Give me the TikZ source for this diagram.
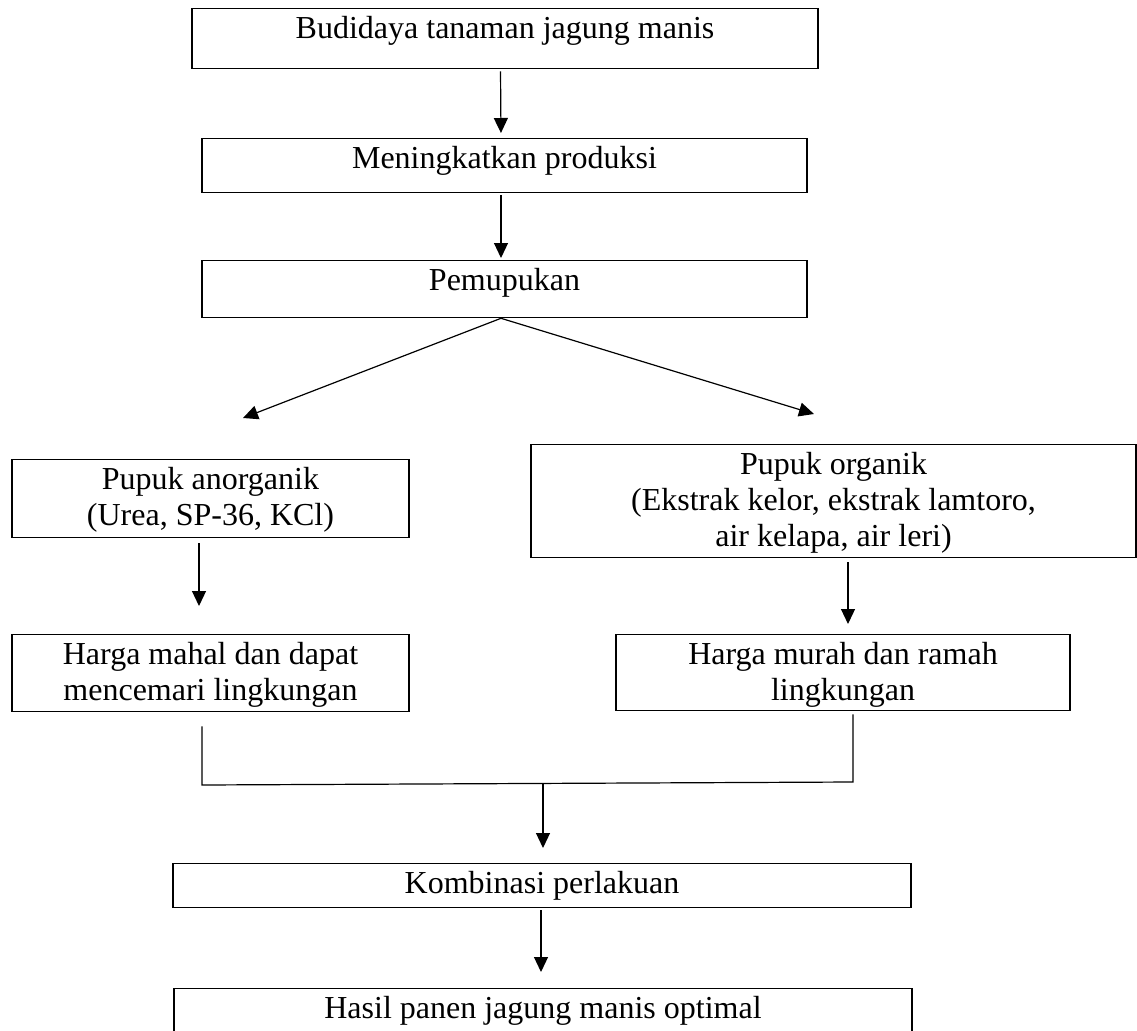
\documentclass[tikz,border=0pt]{standalone}
\usepackage{fontspec}
\setmainfont{Liberation Serif}
\usetikzlibrary{arrows.meta, positioning}
\tikzset{
  flowbox/.style={draw, line width=1.3pt, anchor=north, align=center,
    inner xsep=0pt, inner ysep=0pt, text height=30pt,
    font=\fontsize{32}{36}\selectfont}
}
\tikzset{
  flowline/.style={line width=1.2pt}
}

\begin{document}
\begin{tikzpicture}[x=1pt, y=-1pt, >={Triangle[width=14pt,length=15pt]}]
      \useasboundingbox (0,0) rectangle (1137,1030);
      % boxes, placed at their top edge
      \node[flowbox, minimum width=626pt, text depth=30pt] (budidaya) at (505,8) {Budidaya tanaman jagung manis};
      \node[flowbox, minimum width=605pt, text depth=24pt] (produksi) at (504.5,138) {Meningkatkan produksi};
      \node[flowbox, minimum width=605pt, text depth=27pt] (pemupukan) at (504.5,260) {Pemupukan};
      \node[flowbox, minimum width=397pt, text height=66pt, text depth=12pt] (anorganik) at (210.5,459) {Pupuk anorganik\\(Urea, SP-36, KCl)};
      \node[flowbox, minimum width=605pt, text height=102pt, text depth=11pt] (organik) at (833.5,444) {Pupuk organik\\(Ekstrak kelor, ekstrak lamtoro,\\air kelapa, air leri)};
      \node[flowbox, minimum width=397pt, text height=66pt, text depth=11pt] (mahal) at (210.5,634) {Harga mahal dan dapat\\mencemari lingkungan};
      \node[flowbox, minimum width=454pt, text height=66pt, text depth=10pt] (murah) at (843,634) {Harga murah dan ramah\\lingkungan};
      \node[flowbox, minimum width=738pt, text depth=14pt] (kombinasi) at (542,863) {Kombinasi perlakuan};
      \node[flowbox, minimum width=738pt, text depth=40pt] (hasil) at (543,988) {Hasil panen jagung manis optimal};
      % top chain
      \draw[flowline, ->, shorten <=2pt, shorten >=5pt] ([xshift=-4.5pt]budidaya.south) -- ([xshift=-3.5pt]produksi.north);
      \draw[flowline, ->, shorten <=2pt, shorten >=2pt] ([xshift=-3.5pt]produksi.south) -- ([xshift=-3.5pt]pemupukan.north);
      % split into two kinds of fertiliser
      \coordinate (tipkiri) at (243,418);
      \coordinate (tipkanan) at (814,414);
      \draw[flowline, ->] ([xshift=-3.5pt]pemupukan.south) -- (tipkiri);
      \draw[flowline, ->] ([xshift=-3.5pt]pemupukan.south) -- (tipkanan);
      \coordinate (tipanorg) at (199,606);
      \coordinate (tiporg) at (848,624);
      \draw[flowline, ->] ([xshift=-11.5pt,yshift=-5pt]anorganik.south) -- (tipanorg);
      \draw[flowline, ->] ([xshift=14.5pt,yshift=-4pt]organik.south) -- (tiporg);
      % join both sides
      \coordinate (gabungkiri) at (202,785);
      \coordinate (gabungkanan) at (853,782);
      \coordinate (tengah) at (543,784);
      \draw[flowline] ([xshift=-8.5pt,yshift=-14pt]mahal.south) -- (gabungkiri) -- (gabungkanan) -- ([xshift=10pt,yshift=-3pt]murah.south);
      \draw[flowline, ->, shorten >=15pt] (tengah) -- ([xshift=1pt]kombinasi.north);
      \draw[flowline, ->, shorten <=2pt, shorten >=16pt] ([xshift=-1pt]kombinasi.south) -- ([xshift=-2pt]hasil.north);
    \end{tikzpicture}
\end{document}
